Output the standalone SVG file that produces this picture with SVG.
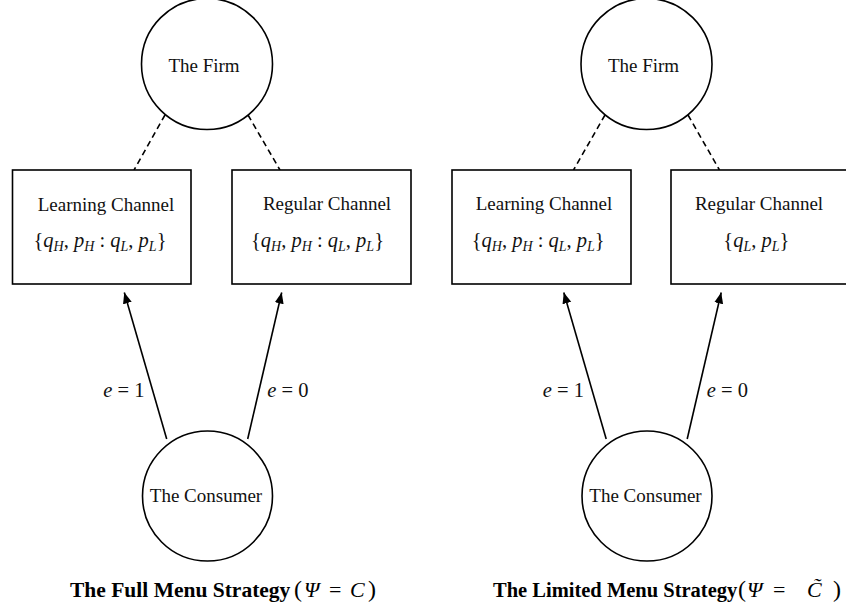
<svg xmlns="http://www.w3.org/2000/svg" width="846" height="613" viewBox="0 0 846 613">
  <style>
    .shape { fill: #ffffff; stroke: #000000; stroke-width: 1.6; }
    .link { stroke: #000000; stroke-width: 1.6; fill: none; }
    .dash { stroke-dasharray: 6 4; }
    .lbl { font-family: "Liberation Serif", "Times New Roman", serif; font-size: 19px; fill: #111111; text-anchor: middle; }
    .math { font-family: "Liberation Serif", "Times New Roman", serif; font-size: 20.5px; fill: #111111; }
    .it { font-style: italic; }
    .sub { font-size: 14px; font-style: italic; }
    .cap { font-family: "Liberation Serif", "Times New Roman", serif; font-weight: bold; fill: #000000; }
    .capm { font-family: "Liberation Serif", "Times New Roman", serif; font-size: 22px; fill: #000000; }
    .paren { font-size: 24px; }
  </style>
  <defs>
    <marker id="arrow" markerUnits="userSpaceOnUse" markerWidth="12" markerHeight="10" refX="11" refY="4.5" orient="auto">
      <path d="M0,0 L11,4.5 L0,9 z" fill="#000000"/>
    </marker>
  </defs>

  <!-- connectors -->
  <g id="connectors">
    <line class="link dash" x1="165" y1="115" x2="134" y2="170"/>
    <line class="link dash" x1="248" y1="115" x2="280" y2="170"/>
    <line class="link" x1="166.7" y1="439" x2="124.3" y2="292.5" marker-end="url(#arrow)"/>
    <line class="link" x1="247.7" y1="439" x2="281.7" y2="292.5" marker-end="url(#arrow)"/>
    <text class="math" x="103.3" y="397"><tspan class="it">e</tspan> = 1</text>
    <text class="math" x="267.3" y="397"><tspan class="it">e</tspan> = 0</text>

    <line class="link dash" x1="605" y1="115" x2="573.5" y2="170"/>
    <line class="link dash" x1="688" y1="115" x2="719.5" y2="170"/>
    <line class="link" x1="606.2" y1="439" x2="563.8" y2="292.5" marker-end="url(#arrow)"/>
    <line class="link" x1="687.2" y1="439" x2="721.2" y2="292.5" marker-end="url(#arrow)"/>
    <text class="math" x="542.8" y="397"><tspan class="it">e</tspan> = 1</text>
    <text class="math" x="706.8" y="397"><tspan class="it">e</tspan> = 0</text>
  </g>

  <!-- full menu strategy -->
  <g id="firm-full">
    <circle class="shape" cx="207" cy="64" r="65.5"/>
    <text class="lbl" x="204" y="72">The Firm</text>
  </g>
  <g id="learning-full">
    <rect class="shape" x="12.5" y="170" width="178.5" height="114"/>
    <text class="lbl" x="106" y="211">Learning Channel</text>
    <text class="math" x="33.5" y="247">{<tspan class="it">q</tspan><tspan class="sub" dy="4">H</tspan><tspan dy="-4">, </tspan><tspan class="it">p</tspan><tspan class="sub" dy="4">H</tspan><tspan dy="-4"> : </tspan><tspan class="it">q</tspan><tspan class="sub" dy="4">L</tspan><tspan dy="-4">, </tspan><tspan class="it">p</tspan><tspan class="sub" dy="4">L</tspan><tspan dy="-4">}</tspan></text>
  </g>
  <g id="regular-full">
    <rect class="shape" x="232" y="170" width="179" height="114"/>
    <text class="lbl" x="327" y="210">Regular Channel</text>
    <text class="math" x="251" y="247">{<tspan class="it">q</tspan><tspan class="sub" dy="4">H</tspan><tspan dy="-4">, </tspan><tspan class="it">p</tspan><tspan class="sub" dy="4">H</tspan><tspan dy="-4"> : </tspan><tspan class="it">q</tspan><tspan class="sub" dy="4">L</tspan><tspan dy="-4">, </tspan><tspan class="it">p</tspan><tspan class="sub" dy="4">L</tspan><tspan dy="-4">}</tspan></text>
  </g>
  <g id="consumer-full">
    <circle class="shape" cx="207.5" cy="496" r="65"/>
    <text class="lbl" x="206" y="502">The Consumer</text>
  </g>
  <text class="cap" x="70" y="597" font-size="21.5">The Full Menu Strategy</text>
  <text class="capm" y="597"><tspan class="paren" x="294">(</tspan><tspan class="it" x="304">Ψ</tspan><tspan x="329">=</tspan><tspan class="it" x="350">C</tspan><tspan class="paren" x="368">)</tspan></text>

  <!-- limited menu strategy -->
  <g id="firm-limited">
    <circle class="shape" cx="646.5" cy="64" r="65.5"/>
    <text class="lbl" x="643.5" y="72">The Firm</text>
  </g>
  <g id="learning-limited">
    <rect class="shape" x="452" y="170" width="179" height="114"/>
    <text class="lbl" x="544" y="210">Learning Channel</text>
    <text class="math" x="471.7" y="247">{<tspan class="it">q</tspan><tspan class="sub" dy="4">H</tspan><tspan dy="-4">, </tspan><tspan class="it">p</tspan><tspan class="sub" dy="4">H</tspan><tspan dy="-4"> : </tspan><tspan class="it">q</tspan><tspan class="sub" dy="4">L</tspan><tspan dy="-4">, </tspan><tspan class="it">p</tspan><tspan class="sub" dy="4">L</tspan><tspan dy="-4">}</tspan></text>
  </g>
  <g id="regular-limited">
    <rect class="shape" x="671" y="170" width="180" height="114"/>
    <text class="lbl" x="759" y="210">Regular Channel</text>
    <text class="math" x="723.3" y="247">{<tspan class="it">q</tspan><tspan class="sub" dy="4">L</tspan><tspan dy="-4">, </tspan><tspan class="it">p</tspan><tspan class="sub" dy="4">L</tspan><tspan dy="-4">}</tspan></text>
  </g>
  <g id="consumer-limited">
    <circle class="shape" cx="647" cy="496" r="65"/>
    <text class="lbl" x="645.5" y="502">The Consumer</text>
  </g>
  <text class="cap" x="493" y="597" font-size="20.5">The Limited Menu Strategy</text>
  <text class="capm" y="597"><tspan class="paren" x="738">(</tspan><tspan class="it" x="747">Ψ</tspan><tspan x="773">=</tspan><tspan class="it" x="807">C̃</tspan><tspan class="paren" x="833">)</tspan></text>
</svg>
